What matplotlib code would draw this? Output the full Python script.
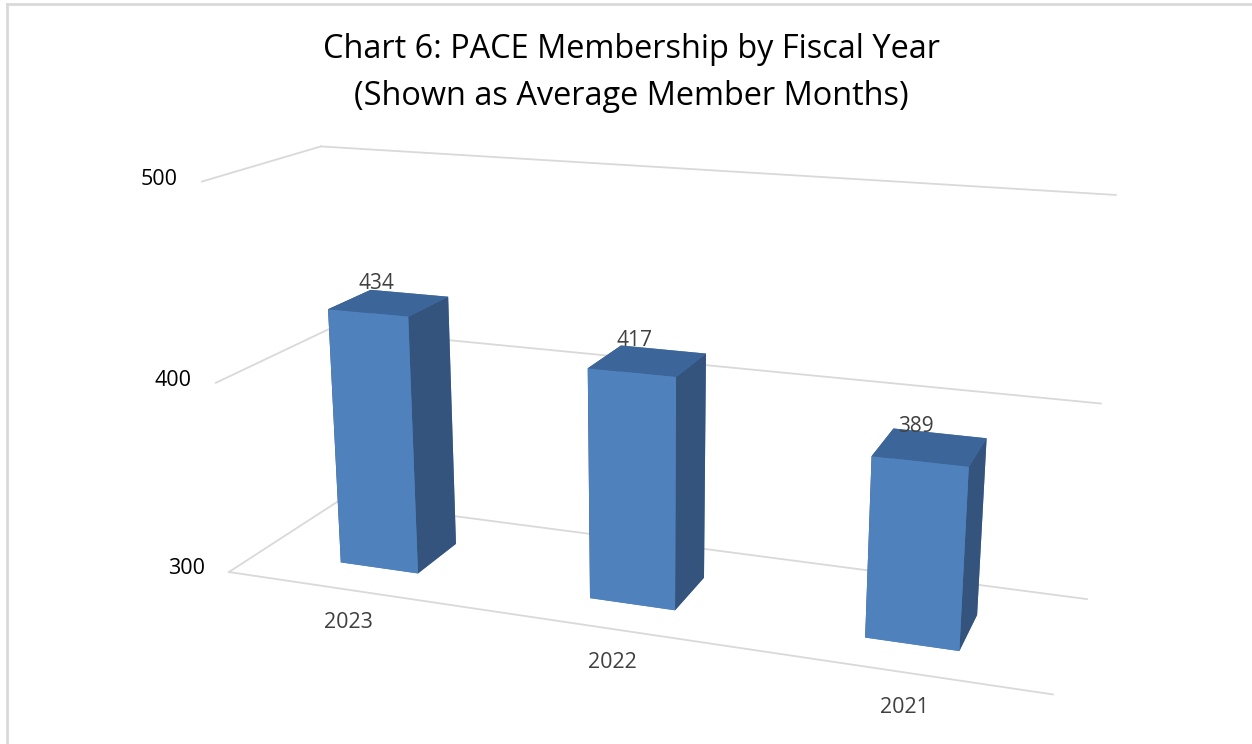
import numpy as np
import matplotlib.pyplot as plt
from matplotlib.lines import Line2D

plt.rcParams['font.family'] = ['Open Sans', 'DejaVu Sans']

# chart data
years = ['2023', '2022', '2021']
members = [434, 417, 389]
ticks = [300, 400, 500]
title = 'Chart 6: PACE Membership by Fiscal Year\n(Shown as Average Member Months)'

front_col = '#4F81BD'
top_col = '#3C669A'
side_col = '#34537D'

W, H = 1252, 744
fig = plt.figure(figsize=(W / 100, H / 100), dpi=100)

# big square 3d axes so nothing is clipped
ax = fig.add_axes([-0.0968, -0.5552, 1.2, 2.0], projection='3d')
ax.computed_zorder = False
ax.set_proj_type('persp', focal_length=0.232)
ax.view_init(elev=16.5, azim=-70)
x0, x1 = -0.5, 2.5
depth = 0.82
ax.set_box_aspect((x1 - x0, depth, 1.45), zoom=0.639)
ax.set_xlim(x0, x1)
ax.set_ylim(0, depth)
ax.set_zlim(ticks[0], ticks[-1])
ax.set_axis_off()

grid = dict(color='#D9D9D9', lw=1.3, zorder=1)
# floor
ax.plot([x0, x1], [0, 0], [ticks[0]] * 2, **grid)
# back wall and side wall gridlines
for t in ticks:
    ax.plot([x0, x1], [depth, depth], [t, t], **grid)
    ax.plot([x0, x0], [0, depth], [t, t], **grid)

# bars, faces ordered -z, +z, -y, +y, -x, +x
bw = 0.32
yc = depth * 0.47
xs = np.arange(len(years))
face_cols = []
for _ in years:
    face_cols += [front_col, top_col, front_col, front_col, side_col, side_col]
ax.bar3d(xs - bw / 2, np.full(len(years), yc - bw / 2),
         np.full(len(years), ticks[0]), bw, bw,
         np.array(members) - ticks[0], color=face_cols, shade=False,
         zorder=2)

for x, v in zip(xs, members):
    ax.text(x - 0.05, yc, v + 4, str(v), ha='center', va='bottom',
            fontsize=15, color='#404040', zorder=5)
    ax.text(x + 0.05, -0.1, ticks[0] - 5, years[x], ha='center', va='top',
            fontsize=15.5, color='#404040', zorder=5)

for t in ticks:
    ax.text(x0 - 0.1, 0, t, str(t), ha='right', va='center',
            fontsize=15.5, color='black', zorder=5)

fig.text(0.504, 0.902, title, ha='center', va='center', fontsize=23.4,
         color='black', linespacing=1.53)

# chart border (top and left only)
fig.add_artist(Line2D([6.5 / W, 1], [1 - 4 / H] * 2, color='#D9D9D9', lw=2,
                      transform=fig.transFigure))
fig.add_artist(Line2D([6.5 / W] * 2, [0, 1 - 4 / H], color='#D9D9D9', lw=2,
                      transform=fig.transFigure))

fig.savefig('out.png', dpi=100)
